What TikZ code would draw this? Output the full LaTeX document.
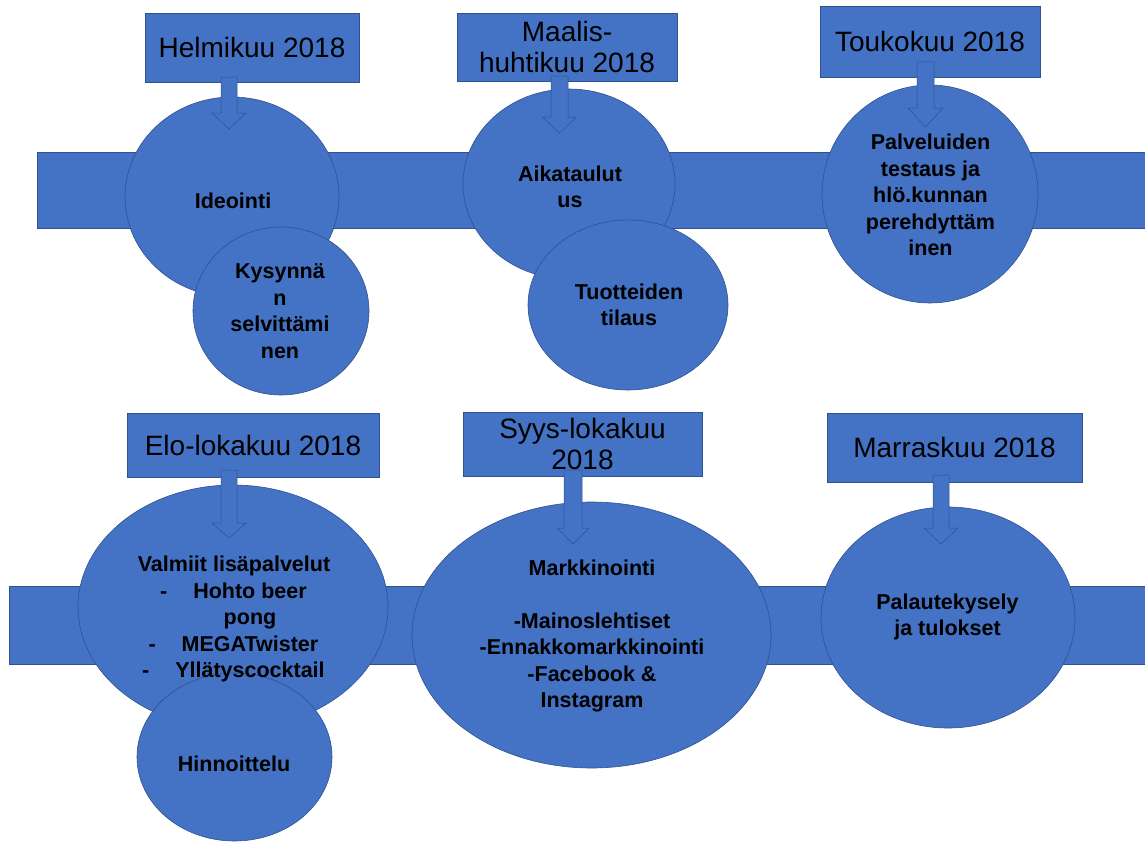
\documentclass[tikz,border=0pt]{standalone}
\usepackage{fontspec}
\setmainfont{Liberation Sans}
\usetikzlibrary{shapes.geometric}
\definecolor{ofblue}{HTML}{4472C4}
\definecolor{ofedge}{HTML}{2F528F}
\tikzset{
  band/.style={fill=ofblue, draw=ofedge, line width=0.4pt},
  datebox/.style={rectangle, fill=ofblue, draw=ofedge, line width=0.5pt, inner sep=0pt,
    font=\fontsize{28}{31}\selectfont, align=center, text=black},
  bubble/.style={ellipse, fill=ofblue, draw=ofedge, line width=0.6pt, inner sep=0pt},
  bubtext/.style={font=\bfseries\fontsize{21.5}{26.5}\selectfont, align=center, inner sep=0pt, text=black},
  blockarrow/.style={fill=ofblue, draw=ofedge, line width=0.5pt, line join=miter}
}
% #1 centre x, #2 top y, #3 head base y, #4 tip y, #5 shaft half width, #6 head half width
\newcommand\blockarr[6]{%
  \draw[blockarrow] (#1-#5,#2) -- (#1-#5,#3) -- (#1-#6,#3) -- (#1,#4) -- (#1+#6,#3)
    -- (#1+#5,#3) -- (#1+#5,#2) -- cycle;}
\begin{document}
\begin{tikzpicture}[x=1pt,y=-1pt]
  \fill[white] (0,0) rectangle (1145,843);
  \useasboundingbox (0,0) rectangle (1145,843);

  % timeline bands
  \draw[band] (37,152) rectangle (1145,228);
  \draw[band] (9,586) rectangle (1145,664);

  % date boxes
  \node[datebox, minimum width=214, minimum height=69] (b1) at (252,47.5) {Helmikuu 2018};
  \node[datebox, minimum width=220, minimum height=68] (b2) at (567,47) {Maalis-\\huhtikuu 2018};
  \node[datebox, minimum width=220, minimum height=71] (b3) at (930,41.5) {Toukokuu 2018};
  \node[datebox, minimum width=252, minimum height=64] (b4) at (253,445) {Elo-lokakuu 2018};
  \node[datebox, minimum width=239, minimum height=64] (b5) at (582.5,444) {Syys-lokakuu\\2018};
  \node[datebox, minimum width=255, minimum height=69] (b6) at (954.5,447.5) {Marraskuu 2018};

  % phase bubbles
  \node[bubble, minimum width=214, minimum height=200] (c1) at (232,197) {};
  \node[bubble, minimum width=176, minimum height=168] (c2) at (281,311) {};
  \node[bubble, minimum width=212, minimum height=190] (c3) at (569,184) {};
  \node[bubble, minimum width=200, minimum height=170] (c4) at (628,305) {};
  \node[bubble, minimum width=216, minimum height=218] (c5) at (930,194) {};
  \node[bubble, minimum width=310, minimum height=244] (c6) at (233,607) {};
  \node[bubble, minimum width=195, minimum height=168] (c7) at (234.5,757) {};
  \node[bubble, minimum width=359, minimum height=266] (c8) at (591.5,635) {};
  \node[bubble, minimum width=254, minimum height=221] (c9) at (948,617.5) {};

  % block arrows
  \blockarr{229}{77}{113}{129}{8}{17}
  \blockarr{559.5}{76}{117}{133}{8.5}{17}
  \blockarr{925.5}{62}{108}{127}{8.5}{17.5}
  \blockarr{229}{470}{523}{538}{8}{17}
  \blockarr{573}{470}{528}{544}{9}{16}
  \blockarr{941}{475}{528}{544}{8}{17}

  % bubble texts
  \node[bubtext] (t1) at (233,201) {Ideointi};
  \node[bubtext] (t2) at (280,311) {Kysynnä\\n\\selvittämi\\nen};
  \node[bubtext] (t3) at (570,187) {Aikataulut\\us};
  \node[bubtext] (t4) at (629,305) {Tuotteiden\\tilaus};
  \node[bubtext] (t5) at (930.5,195) {Palveluiden\\testaus ja\\hlö.kunnan\\perehdyttäm\\inen};
  \node[bubtext] (t6) at (234,619) {Valmiit lisäpalvelut\\
    \hspace*{32pt}\llap{-\hspace{26pt}}Hohto beer\\
    \hspace*{32pt}pong\\
    \hspace*{32pt}\llap{-\hspace{26pt}}MEGATwister\\
    \hspace*{32pt}\llap{-\hspace{26pt}}Yllätyscocktail};
  \node[bubtext] (t7) at (234,764) {Hinnoittelu};
  \node[bubtext] (t8) at (592,636) {Markkinointi\\[26.5pt]-Mainoslehtiset\\-Ennakkomarkkinointi\\-Facebook \&\\Instagram};
  \node[bubtext] (t9) at (947.5,617) {Palautekysely\\ja tulokset};
\end{tikzpicture}
\end{document}
